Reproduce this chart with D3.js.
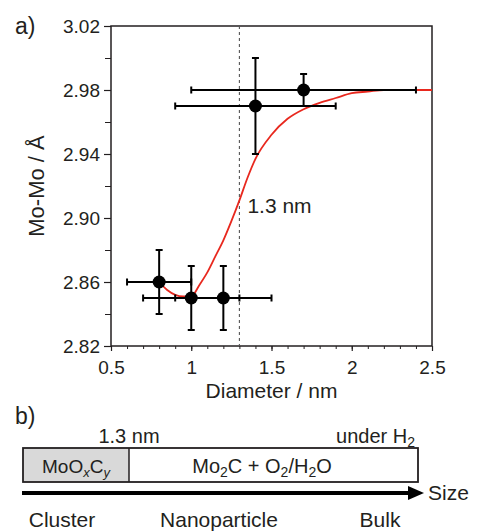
<!DOCTYPE html>
<html>
<head>
<meta charset="utf-8">
<script src="https://cdn.jsdelivr.net/npm/d3@7"></script>
<style>
  body { margin: 0; background: #fff; }
  svg { display: block; font-family: "Liberation Sans", Arial, Helvetica, sans-serif; fill: #231f20; }
</style>
</head>
<body>
<svg id="chart"></svg>
<script>
// measured Mo-Mo distances vs particle diameter
const diameter = [0.8, 1.0, 1.2, 1.4, 1.7];
const moMo = [2.86, 2.85, 2.85, 2.97, 2.98];
const diameterErr = [0.2, 0.3, 0.3, 0.5, 0.7];
const moMoErr = [0.02, 0.02, 0.02, 0.03, 0.01];

// red guide curve
const fitX = [0.8, 0.85, 0.9, 0.95, 1.0, 1.05, 1.1, 1.15, 1.2, 1.25, 1.3, 1.35, 1.4, 1.5, 1.6, 1.7, 1.8, 1.9, 2.0, 2.1, 2.2, 2.3, 2.4, 2.5];
const fitY = [2.86, 2.855, 2.852, 2.851, 2.851, 2.858, 2.866, 2.876, 2.886, 2.898, 2.911, 2.925, 2.937, 2.952, 2.962, 2.968, 2.972, 2.975, 2.978, 2.979, 2.98, 2.98, 2.98, 2.98];

const xTicks = [0.5, 1, 1.5, 2, 2.5];
const xMinor = d3.range(0.6, 2.5, 0.1).map(d => +d.toFixed(1));
const yTicks = [2.82, 2.86, 2.90, 2.94, 2.98, 3.02];
const yMinor = [2.84, 2.88, 2.92, 2.96, 3.00];
const threshold = 1.3;

// panel b labels
const phases = ["Cluster", "Nanoparticle", "Bulk"];

const W = 478, H = 532;
const margin = { top: 26, right: 46, bottom: 186, left: 111 };
const width = W - margin.left - margin.right;
const height = H - margin.top - margin.bottom;

const svg = d3.select('#chart').attr('width', W).attr('height', H);
const g = svg.append('g').attr('transform', `translate(${margin.left},${margin.top})`);

const x = d3.scaleLinear().domain([0.5, 2.5]).range([0, width]);
const y = d3.scaleLinear().domain([2.82, 3.02]).range([height, 0]);

// axes
g.append('g')
  .attr('transform', `translate(0,${height})`)
  .call(d3.axisBottom(x).tickValues(xMinor).tickSize(3).tickFormat(''))
  .call(a => a.select('.domain').remove())
  .call(a => a.selectAll('.tick line').attr('stroke', '#231f20').attr('stroke-width', 1));

g.append('g')
  .attr('transform', `translate(0,${height})`)
  .call(d3.axisBottom(x).tickValues(xTicks).tickSize(5).tickPadding(10).tickFormat(d3.format('')))
  .call(a => a.select('.domain').remove())
  .call(a => a.selectAll('.tick line').attr('stroke', '#231f20').attr('stroke-width', 1.2))
  .call(a => a.selectAll('.tick text').attr('fill', '#231f20').attr('font-size', 19).attr('font-family', null));

g.append('g')
  .call(d3.axisLeft(y).tickValues(yMinor).tickSize(6).tickFormat(''))
  .call(a => a.select('.domain').remove())
  .call(a => a.selectAll('.tick line').attr('stroke', '#231f20').attr('stroke-width', 1));

g.append('g')
  .call(d3.axisLeft(y).tickValues(yTicks).tickSize(7).tickPadding(4).tickFormat(d3.format('.2f')))
  .call(a => a.select('.domain').remove())
  .call(a => a.selectAll('.tick line').attr('stroke', '#231f20').attr('stroke-width', 1.2))
  .call(a => a.selectAll('.tick text').attr('fill', '#231f20').attr('font-size', 19).attr('font-family', null));

// frame
g.append('rect')
  .attr('width', width).attr('height', height)
  .attr('fill', 'none').attr('stroke', '#231f20').attr('stroke-width', 1.5);

// axis titles
g.append('text')
  .attr('x', width / 2).attr('y', height + 52)
  .attr('text-anchor', 'middle').attr('font-size', 21)
  .text('Diameter / nm');

g.append('text')
  .attr('transform', `translate(-67,${height / 2}) rotate(-90)`)
  .attr('text-anchor', 'middle').attr('font-size', 22)
  .text('Mo-Mo / Å');

svg.append('text').attr('x', 15).attr('y', 34).attr('font-size', 23).text('a)');

// threshold line
g.append('line')
  .attr('x1', x(threshold)).attr('x2', x(threshold))
  .attr('y1', 0).attr('y2', height)
  .attr('stroke', '#555').attr('stroke-width', 1.1).attr('stroke-dasharray', '3,3');

g.append('text')
  .attr('x', x(threshold) + 8).attr('y', y(2.9) - 5)
  .attr('font-size', 21)
  .text(threshold + ' nm');

// red curve
const fit = fitX.map((d, i) => [d, fitY[i]]);
g.append('path')
  .datum(fit)
  .attr('fill', 'none')
  .attr('stroke', '#e8281e')
  .attr('stroke-width', 1.8)
  .attr('d', d3.line().x(d => x(d[0])).y(d => y(d[1])).curve(d3.curveMonotoneX));

// error bars + points
const pts = diameter.map((d, i) => ({ d, v: moMo[i], dx: diameterErr[i], dy: moMoErr[i] }));
const cap = 3.5;
const eb = g.append('g').attr('stroke', '#000').attr('stroke-width', 2);
pts.forEach(p => {
  eb.append('line').attr('x1', x(p.d - p.dx)).attr('x2', x(p.d + p.dx)).attr('y1', y(p.v)).attr('y2', y(p.v));
  eb.append('line').attr('x1', x(p.d)).attr('x2', x(p.d)).attr('y1', y(p.v - p.dy)).attr('y2', y(p.v + p.dy));
  [p.d - p.dx, p.d + p.dx].forEach(e => eb.append('line')
    .attr('x1', x(e)).attr('x2', x(e)).attr('y1', y(p.v) - cap).attr('y2', y(p.v) + cap));
  [p.v - p.dy, p.v + p.dy].forEach(e => eb.append('line')
    .attr('x1', x(p.d) - cap).attr('x2', x(p.d) + cap).attr('y1', y(e)).attr('y2', y(e)));
});

g.selectAll('.dot')
  .data(pts)
  .enter().append('circle')
  .attr('class', 'dot')
  .attr('cx', d => x(d.d)).attr('cy', d => y(d.v))
  .attr('r', 6.5).attr('fill', '#000');

// ---- panel b: schematic ----
const b = svg.append('g');
b.append('text').attr('x', 15).attr('y', 424).attr('font-size', 23).text('b)');

const boxL = 23, boxR = 418, boxT = 448, boxB = 482, split = 129;

b.append('rect').attr('x', boxL).attr('y', boxT).attr('width', split - boxL).attr('height', boxB - boxT)
  .attr('fill', '#d9d9d9');
b.append('rect').attr('x', boxL).attr('y', boxT).attr('width', boxR - boxL).attr('height', boxB - boxT)
  .attr('fill', 'none').attr('stroke', '#231f20').attr('stroke-width', 1.8);
b.append('line').attr('x1', split).attr('x2', split).attr('y1', boxT).attr('y2', boxB)
  .attr('stroke', '#231f20').attr('stroke-width', 1.5);

b.append('text').attr('x', split).attr('y', 443).attr('text-anchor', 'middle').attr('font-size', 20)
  .text(threshold + ' nm');

const uh = b.append('text').attr('x', 415).attr('y', 443).attr('text-anchor', 'end').attr('font-size', 20);
uh.append('tspan').text('under H');
uh.append('tspan').attr('font-size', 14).attr('dy', 4).text('2');

const mo = b.append('text').attr('x', (boxL + split) / 2).attr('y', 473).attr('text-anchor', 'middle').attr('font-size', 19);
mo.append('tspan').text('MoO');
mo.append('tspan').attr('font-size', 13).attr('dy', 4).attr('font-style', 'italic').text('x');
mo.append('tspan').attr('dy', -4).text('C');
mo.append('tspan').attr('font-size', 13).attr('dy', 4).attr('font-style', 'italic').text('y');

const mc = b.append('text').attr('x', 262).attr('y', 473).attr('text-anchor', 'middle').attr('font-size', 20);
[['Mo', 0], ['2', 1], ['C + O', 0], ['2', 1], ['/H', 0], ['2', 1], ['O', 0]].forEach(([t, sub], i, arr) => {
  const prevSub = i > 0 && arr[i - 1][1];
  mc.append('tspan')
    .attr('font-size', sub ? 14 : 20)
    .attr('dy', sub ? 4 : (prevSub ? -4 : 0))
    .text(t);
});

// size arrow
b.append('line').attr('x1', 22).attr('x2', 410).attr('y1', 493).attr('y2', 493)
  .attr('stroke', '#000').attr('stroke-width', 4);
b.append('path').attr('d', 'M408,486 L424,493 L408,500 Z').attr('fill', '#000');
b.append('text').attr('x', 428).attr('y', 500).attr('font-size', 21).text('Size');

// label centres along the size arrow
const phaseCentre = { Cluster: 62, Nanoparticle: 219, Bulk: 380 };
b.selectAll('.phase')
  .data(phases)
  .enter().append('text')
  .attr('class', 'phase')
  .attr('x', d => phaseCentre[d])
  .attr('y', 527).attr('text-anchor', 'middle').attr('font-size', 21)
  .text(d => d);
</script>
</body>
</html>
